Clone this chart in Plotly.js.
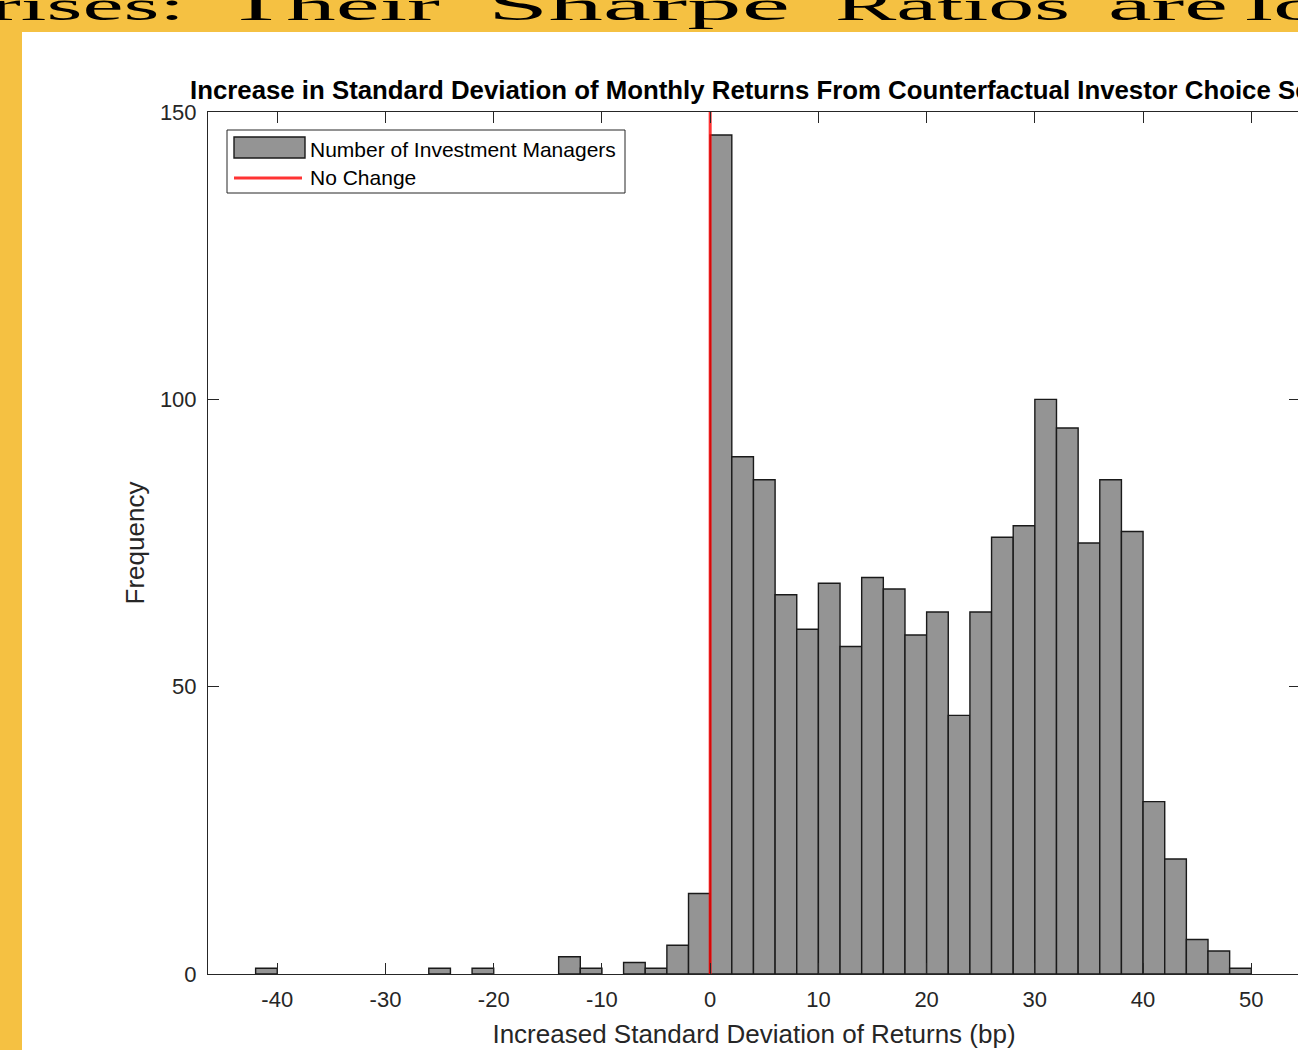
<!DOCTYPE html>
<html><head><meta charset="utf-8">
<script src="https://cdn.plot.ly/plotly-3.0.1.min.js"></script>
<style>
html,body{margin:0;padding:0;width:1298px;height:1050px;overflow:hidden;background:#fff;}
#band{position:absolute;left:0;top:0;width:1298px;height:32px;background:#F5C142;}
#strip{position:absolute;left:0;top:0;width:22px;height:1050px;background:#F5C142;}
#hdr{position:absolute;left:0;top:0;}
#chart{position:absolute;left:0;top:0;width:1320px;height:1050px;}
</style></head><body>
<div id="band"></div><div id="strip"></div>
<svg id="hdr" width="1298" height="32" font-family="Liberation Serif, serif" font-size="42" fill="#000">
<text x="-10" y="20" textLength="195" lengthAdjust="spacingAndGlyphs">rises:</text>
<text x="226" y="20" textLength="214" lengthAdjust="spacingAndGlyphs">Their</text>
<text x="488" y="20" textLength="302" lengthAdjust="spacingAndGlyphs">Sharpe</text>
<text x="835" y="20" textLength="235" lengthAdjust="spacingAndGlyphs">Ratios</text>
<text x="1108" y="20" textLength="120" lengthAdjust="spacingAndGlyphs">are</text>
<text x="1245" y="20" textLength="230" lengthAdjust="spacingAndGlyphs">lower</text>
</svg>
<div id="chart"></div>
<script>
// ---- data ----
const binCenters = [-41,-25,-21,-13,-11,-7,-5,-3,-1,1,3,5,7,9,11,13,15,17,19,21,23,25,27,29,31,33,35,37,39,41,43,45,47,49];
const counts     = [1,1,1,3,1,2,1,5,14,146,90,86,66,60,68,57,69,67,59,63,45,63,76,78,100,95,75,86,77,30,20,6,4,1];
const binWidth = 2;
const noChangeX = [0, 0];
const noChangeY = [0, 150];
const xTickVals = [-40,-30,-20,-10,0,10,20,30,40,50];
const yTickVals = [0,50,100,150];
const seriesNames = ['Number of Investment Managers', 'No Change'];

// ---- layout helpers (pixel -> paper) ----
const W = 1320, H = 1050;
const L = 208, R = 1300, T = 112, B = 974;
const px = x => (x - L) / (R - L);
const py = y => (B - y) / (B - T);

const axisColor = '#262626';
const barFill = '#949494';
const redLine = 'rgba(255,0,0,0.8)';

const traces = [
  {type:'bar', x: binCenters, y: counts, width: binWidth, name: seriesNames[0],
   marker:{color: barFill, line:{color:'#1a1a1a', width:1.4}}, showlegend:false, hoverinfo:'skip'},
  {type:'scatter', mode:'lines', x: noChangeX, y: noChangeY, name: seriesNames[1],
   line:{color: redLine, width:3}, showlegend:false, cliponaxis:false, hoverinfo:'skip'}
];

const axisCommon = {
  ticks:'inside', ticklen:11, tickwidth:1, tickcolor:axisColor,
  showline:true, linecolor:axisColor, linewidth:1, mirror:'ticks',
  showgrid:false, zeroline:false, tickfont:{size:22, color:axisColor}
};

const layout = {
  width:W, height:H,
  margin:{l:L, r:W-R, t:T, b:H-B, pad:0},
  paper_bgcolor:'rgba(0,0,0,0)', plot_bgcolor:'#ffffff',
  font:{family:'Liberation Sans, Arial, sans-serif', color:axisColor},
  bargap:0,
  title:{text:'Increase in Standard Deviation of Monthly Returns From Counterfactual Investor Choice Set',
         font:{size:25.8, color:'#000', weight:700}, xref:'container', x:190/W, xanchor:'left',
         yref:'container', y:1-90/H, yanchor:'middle'},
  xaxis:Object.assign({}, axisCommon, {range:[-46.4, 54.5], tickvals:xTickVals,
         ticktext:xTickVals.map(String), ticklabelstandoff:6,
         title:{text:'Increased Standard Deviation of Returns (bp)', font:{size:26, color:axisColor}, standoff:13}}),
  yaxis:Object.assign({}, axisCommon, {range:[0,150], tickvals:yTickVals,
         ticktext:yTickVals.map(String), ticklabelstandoff:6,
         title:{text:'Frequency', font:{size:26, color:axisColor}, standoff:7}}),
  shapes:[
    {type:'rect', xref:'paper', yref:'paper', x0:px(227), x1:px(625), y0:py(193), y1:py(130),
     line:{color:axisColor, width:1}, fillcolor:'#ffffff'},
    {type:'rect', xref:'paper', yref:'paper', x0:px(234), x1:px(305), y0:py(158), y1:py(137),
     line:{color:'#1a1a1a', width:1.4}, fillcolor:barFill},
    {type:'line', xref:'paper', yref:'paper', x0:px(234), x1:px(302), y0:py(178), y1:py(178),
     line:{color:redLine, width:3}}
  ],
  annotations:[
    {xref:'paper', yref:'paper', x:px(308), y:py(149), xanchor:'left', yanchor:'middle', showarrow:false,
     text:seriesNames[0], font:{size:21, color:'#000'}},
    {xref:'paper', yref:'paper', x:px(308), y:py(178), xanchor:'left', yanchor:'middle', showarrow:false,
     text:seriesNames[1], font:{size:21, color:'#000'}}
  ]
};

Plotly.newPlot('chart', traces, layout, {staticPlot:true, displayModeBar:false});
</script>
</body></html>
